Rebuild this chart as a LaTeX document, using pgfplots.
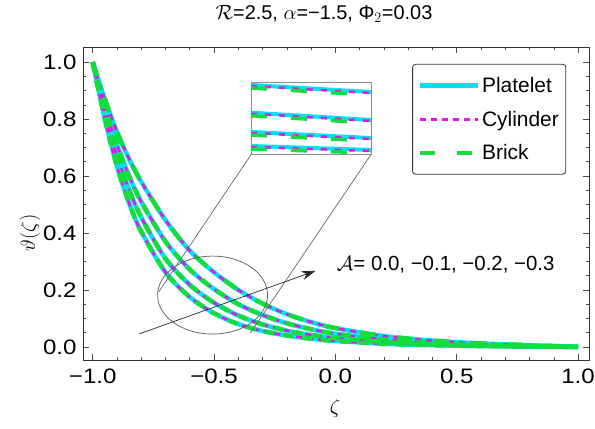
\documentclass[border=0pt]{standalone}
\usepackage{fontspec}
\setmainfont{Liberation Sans}
\newfontfamily\tickfont{Liberation Sans}[FakeStretch=1.15]
\usepackage{pgfplots}
\pgfplotsset{compat=1.18}
\usepackage{pgfplotstable}
\usetikzlibrary{arrows.meta}
\definecolor{platcol}{RGB}{0,225,235}
\definecolor{cylcol}{RGB}{230,20,230}
\definecolor{brickcol}{RGB}{20,220,60}

\pgfplotstableread{
z      c1     c2     c3     c4
-1.00  1.000  1.000  1.000  1.000
-0.95  0.870  0.845  0.820  0.800
-0.90  0.755  0.710  0.672  0.635
-0.85  0.660  0.600  0.552  0.505
-0.80  0.580  0.510  0.455  0.405
-0.70  0.445  0.370  0.310  0.262
-0.60  0.338  0.272  0.218  0.175
-0.50  0.262  0.203  0.155  0.118
-0.40  0.200  0.150  0.110  0.080
-0.30  0.152  0.112  0.079  0.056
-0.20  0.115  0.083  0.057  0.040
-0.10  0.087  0.062  0.042  0.029
 0.00  0.066  0.046  0.031  0.021
 0.20  0.038  0.026  0.017  0.011
 0.40  0.022  0.014  0.009  0.006
 0.60  0.012  0.0075 0.0045 0.003
 0.80  0.006  0.0035 0.002  0.0015
 1.00  0.000  0.000  0.000  0.000
}\data

\begin{document}
\begin{tikzpicture}
\begin{axis}[
  at={(0,0)}, anchor=south west,
  width=506bp, height=313bp, scale only axis,
  xmin=-1.04, xmax=1.045, ymin=-0.046, ymax=1.053,
  xtick={-1,-0.5,0,0.5,1}, xticklabels={−1.0,−0.5,0.0,0.5,1.0},
  minor x tick num=4,
  ytick={0,0.2,0.4,0.6,0.8,1.0}, yticklabels={0.0,0.2,0.4,0.6,0.8,1.0},
  minor y tick num=3,
  tick align=inside,
  major tick length=6bp, minor tick length=3.5bp,
  xtick pos=both, ytick pos=both,
  xticklabel pos=bottom, yticklabel pos=left,
  axis line style={black!80, line width=0.8bp},
  tick style={black!70, line width=0.6bp},
  ticklabel style={font=\tickfont\fontsize{21}{24}\selectfont},
  xticklabel style={yshift=-5bp},
  yticklabel style={xshift=-3bp},
  xlabel={$\zeta$}, ylabel={$\vartheta(\zeta)$},
  label style={font=\fontsize{22}{25}\selectfont},
  xlabel style={at={(axis description cs:0.498,-0.153)}, anchor=center},
  ylabel style={at={(axis description cs:-0.105,0.406)}, anchor=center},
  legend style={at={(rel axis cs:0.955,0.946)}, anchor=north east, draw=black!80,
    rounded corners=3bp, font=\fontsize{21}{24}\selectfont, row sep=13bp,
    inner xsep=5bp, inner ysep=11bp, line width=0.8bp},
  legend cell align=left,
  legend image code/.code={\draw[#1] (0bp,0bp) -- (51bp,0bp); \path (0bp,0bp) -- (58bp,0bp);},
]
\addplot[platcol, line width=4.5bp, smooth] table[x=z,y=c1]{\data};
\addlegendentry{Platelet}
\addplot[platcol, line width=4.5bp, smooth, forget plot] table[x=z,y=c2]{\data};
\addplot[platcol, line width=4.5bp, smooth, forget plot] table[x=z,y=c3]{\data};
\addplot[platcol, line width=4.5bp, smooth, forget plot] table[x=z,y=c4]{\data};
\addplot[cylcol, line width=2.5bp, smooth, dash pattern=on 6bp off 5bp] table[x=z,y=c1]{\data};
\addlegendentry{Cylinder}
\addplot[cylcol, line width=2.5bp, smooth, dash pattern=on 6bp off 5bp, forget plot] table[x=z,y=c2]{\data};
\addplot[cylcol, line width=2.5bp, smooth, dash pattern=on 6bp off 5bp, forget plot] table[x=z,y=c3]{\data};
\addplot[cylcol, line width=2.5bp, smooth, dash pattern=on 6bp off 5bp, forget plot] table[x=z,y=c4]{\data};
\addplot[brickcol, line width=4.5bp, smooth, dash pattern=on 15bp off 22bp] table[x=z,y=c1]{\data};
\addlegendentry{Brick}
\addplot[brickcol, line width=4.5bp, smooth, dash pattern=on 10bp off 9bp, forget plot] table[x=z,y=c2]{\data};
\addplot[brickcol, line width=4.5bp, smooth, dash pattern=on 10bp off 9bp, forget plot] table[x=z,y=c3]{\data};
\addplot[brickcol, line width=4.5bp, smooth, dash pattern=on 10bp off 9bp, forget plot] table[x=z,y=c4]{\data};

\draw[black!65, line width=0.7bp] (axis cs:-0.506,0.182) ellipse [x radius=55bp, y radius=39bp];
\draw[black!60, line width=0.7bp] (axis cs:-0.346,0.677) -- (axis cs:-0.728,0.193);
\draw[black!60, line width=0.7bp] (axis cs:0.148,0.677) -- (axis cs:-0.350,0.049);
\draw[black!85, line width=0.7bp, -{Stealth[length=14bp,width=9bp]}] (axis cs:-0.807,0.046) -- (axis cs:-0.082,0.267);
\node[anchor=west, font=\fontsize{20.5}{23}\selectfont] at (axis cs:-0.008,0.288) {$\mathcal{A}$= 0.0, −0.1, −0.2, −0.3};
\end{axis}

\begin{axis}[
  at={(168bp,206bp)}, anchor=south west,
  width=120bp, height=72bp, scale only axis,
  xmin=0, xmax=1, ymin=0, ymax=1,
  ticks=none, axis background/.style={fill=white},
  axis line style={black!45, line width=0.8bp},
]
\addplot[platcol, line width=4bp] coordinates {(0,0.958) (1,0.861)};
\addplot[platcol, line width=4bp] coordinates {(0,0.574) (1,0.472)};
\addplot[platcol, line width=4bp] coordinates {(0,0.306) (1,0.222)};
\addplot[platcol, line width=4bp] coordinates {(0,0.111) (1,0.056)};
\addplot[cylcol, line width=2.5bp, dash pattern=on 6bp off 8bp] coordinates {(0,0.944) (1,0.847)};
\addplot[cylcol, line width=2.5bp, dash pattern=on 6bp off 8bp] coordinates {(0,0.560) (1,0.458)};
\addplot[cylcol, line width=2.5bp, dash pattern=on 6bp off 8bp] coordinates {(0,0.292) (1,0.208)};
\addplot[cylcol, line width=2.5bp, dash pattern=on 6bp off 8bp] coordinates {(0,0.097) (1,0.042)};
\addplot[brickcol, line width=3.5bp, dash pattern=on 16bp off 24bp] coordinates {(0,0.916) (1,0.819)};
\addplot[brickcol, line width=3.5bp, dash pattern=on 16bp off 24bp] coordinates {(0,0.532) (1,0.430)};
\addplot[brickcol, line width=3.5bp, dash pattern=on 16bp off 24bp] coordinates {(0,0.264) (1,0.180)};
\addplot[brickcol, line width=3.5bp, dash pattern=on 16bp off 24bp] coordinates {(0,0.069) (1,0.014)};
\end{axis}
\node[font=\fontsize{20}{23}\selectfont] at (241bp,346bp) {$\mathcal{R}$=2.5, $\alpha$=−1.5, Φ$_2$=0.03};
\pgfresetboundingbox
\path (-83bp,-69bp) rectangle (512bp,360bp);
\end{tikzpicture}
\end{document}
